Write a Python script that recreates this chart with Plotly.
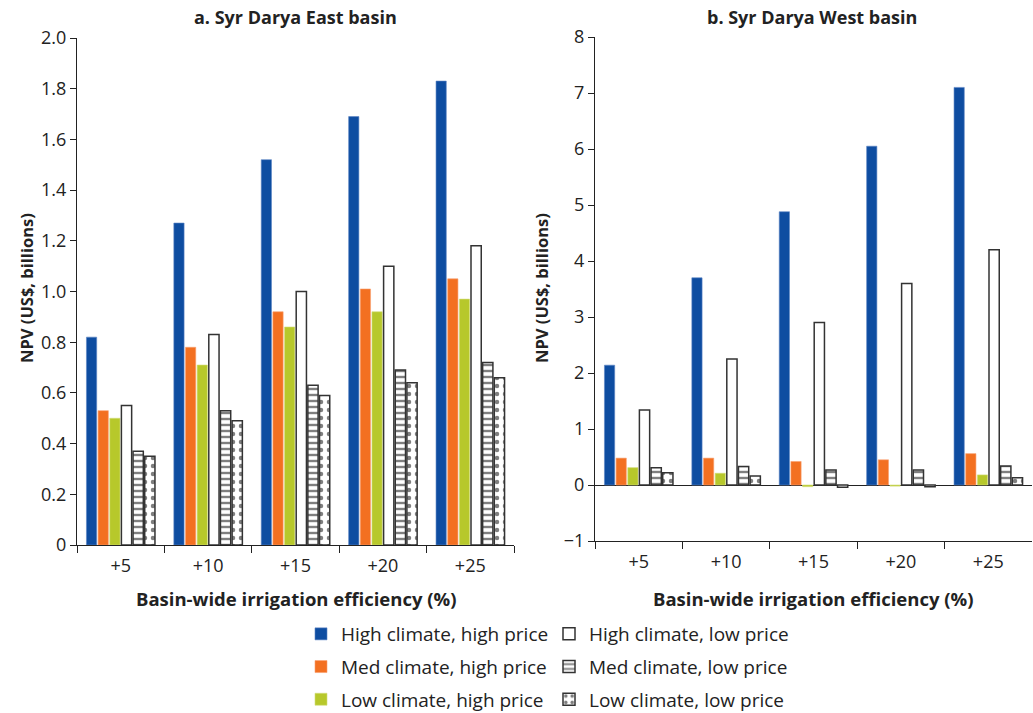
import plotly.graph_objects as go

categories = ["+5", "+10", "+15", "+20", "+25"]
series_names = [
    "High climate, high price",
    "Med climate, high price",
    "Low climate, high price",
    "High climate, low price",
    "Med climate, low price",
    "Low climate, low price",
]
# Panel a: Syr Darya East basin (NPV, US$ billions)
east_high_high = [0.82, 1.27, 1.52, 1.69, 1.83]
east_med_high = [0.53, 0.78, 0.92, 1.01, 1.05]
east_low_high = [0.50, 0.71, 0.86, 0.92, 0.97]
east_high_low = [0.55, 0.83, 1.00, 1.10, 1.18]
east_med_low = [0.37, 0.53, 0.63, 0.69, 0.72]
east_low_low = [0.35, 0.49, 0.59, 0.64, 0.66]
# Panel b: Syr Darya West basin
west_high_high = [2.14, 3.70, 4.88, 6.05, 7.10]
west_med_high = [0.48, 0.48, 0.42, 0.45, 0.56]
west_low_high = [0.31, 0.21, -0.03, -0.02, 0.18]
west_high_low = [1.34, 2.25, 2.90, 3.60, 4.20]
west_med_low = [0.31, 0.33, 0.27, 0.27, 0.34]
west_low_low = [0.22, 0.16, -0.04, -0.03, 0.13]

east_ticks = [0, 0.2, 0.4, 0.6, 0.8, 1.0, 1.2, 1.4, 1.6, 1.8, 2.0]
east_ticktext = ["0", "0.2", "0.4", "0.6", "0.8", "1.0", "1.2", "1.4", "1.6", "1.8", "2.0"]
west_ticks = [-1, 0, 1, 2, 3, 4, 5, 6, 7, 8]

BLUE = "#0E4DA1"
ORANGE = "#F37021"
GREEN = "#B7C82B"
EDGE = "#333333"
FONT = "Open Sans"

styles = [
    dict(color=BLUE, line=dict(width=0.6, color="#5C85C4")),
    dict(color=ORANGE, line=dict(width=0.6, color="#F8A070")),
    dict(color=GREEN, line=dict(width=0.6, color="#D3DE7A")),
    dict(color="white", line=dict(width=1.5, color=EDGE)),
    dict(color="white", line=dict(width=1.5, color=EDGE),
         pattern=dict(shape="-", fgcolor="#000000", bgcolor="white", size=6, solidity=0.4)),
    dict(color="white", line=dict(width=1.5, color=EDGE),
         pattern=dict(shape=".", fgcolor="#000000", bgcolor="white", size=8, solidity=0.25)),
]
legend_ids = ["legend", "legend", "legend", "legend2", "legend2", "legend2"]

east = [east_high_high, east_med_high, east_low_high, east_high_low, east_med_low, east_low_low]
west = [west_high_high, west_med_high, west_low_high, west_high_low, west_med_low, west_low_low]

fig = go.Figure()
for i, name in enumerate(series_names):
    fig.add_trace(go.Bar(x=categories, y=east[i], name=name, marker=styles[i],
                         xaxis="x", yaxis="y", legend=legend_ids[i],
                         legendgroup=name, showlegend=True))
for i, name in enumerate(series_names):
    fig.add_trace(go.Bar(x=categories, y=west[i], name=name, marker=styles[i],
                         xaxis="x2", yaxis="y2", legendgroup=name, showlegend=False))

W, H = 1033, 713


def px_x(p):
    return p / W


def px_y(p):
    return 1 - p / H


axis_font = dict(family=FONT, size=18, color="#222222")
common_x = dict(type="category", showline=True, linecolor="#222222", linewidth=1,
                ticks="outside", tickson="boundaries", ticklen=7, tickcolor="#222222",
                range=[-0.5, 4.5], tickfont=axis_font, showgrid=False, zeroline=False,
                ticklabelstandoff=4)
common_y = dict(showline=True, linecolor="#222222", linewidth=1, ticks="outside",
                ticklen=6, tickcolor="#222222", tickfont=axis_font, showgrid=False)

legend_font = dict(family=FONT, size=19, color="#222222")
fig.update_layout(
    width=W, height=H,
    margin=dict(l=0, r=0, t=0, b=0, autoexpand=False),
    paper_bgcolor="white", plot_bgcolor="white",
    barmode="group", bargap=0.2, bargroupgap=0.12,
    font=dict(family=FONT, color="#222222"),
    xaxis=dict(domain=[px_x(77), px_x(514)], anchor="y", **common_x),
    yaxis=dict(domain=[px_y(545), px_y(38)], anchor="x", range=[0, 2.0],
               tickvals=east_ticks, ticktext=east_ticktext, zeroline=False, **common_y),
    xaxis2=dict(domain=[px_x(595), px_x(1032)], anchor="y2", **common_x),
    yaxis2=dict(domain=[px_y(541), px_y(37)], anchor="x2", range=[-1, 8],
                tickvals=west_ticks, zeroline=True, zerolinecolor="#222222",
                zerolinewidth=1, **common_y),
    legend=dict(x=px_x(301), y=px_y(615), xanchor="left", yanchor="top",
                font=legend_font, traceorder="grouped", tracegroupgap=5,
                bgcolor="rgba(0,0,0,0)"),
    legend2=dict(x=px_x(549), y=px_y(615), xanchor="left", yanchor="top",
                 font=legend_font, traceorder="grouped", tracegroupgap=5,
                 bgcolor="rgba(0,0,0,0)"),
)

title_font = dict(family=FONT, size=18, color="#222222", weight="bold")
ann = [
    dict(text="a. Syr Darya East basin", x=px_x(295), y=px_y(17), size=18),
    dict(text="b. Syr Darya West basin", x=px_x(812), y=px_y(17), size=18),
    dict(text="Basin-wide irrigation efficiency (%)", x=px_x(296), y=px_y(598), size=18.5),
    dict(text="Basin-wide irrigation efficiency (%)", x=px_x(813), y=px_y(598), size=18.5),
]
for a in ann:
    s = a.pop("size")
    fig.add_annotation(xref="paper", yref="paper", showarrow=False, xanchor="center",
                       yanchor="middle", font=dict(title_font, size=s), **a)
fig.add_annotation(text="NPV (US$, billions)", xref="paper", yref="paper", x=px_x(26),
                   y=px_y(288), textangle=-90, showarrow=False, xanchor="center",
                   yanchor="middle", font=dict(title_font, size=16.5))
fig.add_annotation(text="NPV (US$, billions)", xref="paper", yref="paper", x=px_x(541),
                   y=px_y(288), textangle=-90, showarrow=False, xanchor="center",
                   yanchor="middle", font=dict(title_font, size=16.5))

fig.write_html("out.html", config={"displayModeBar": False},
               post_script="document.body.style.margin='0';")
